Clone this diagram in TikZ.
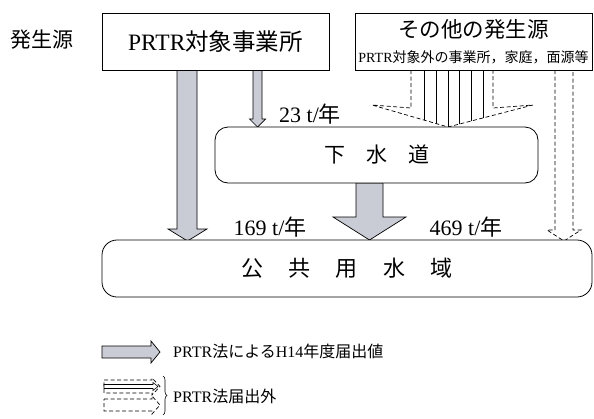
\documentclass[tikz,border=0pt]{standalone}
\usepackage{fontspec}
\setmainfont{Liberation Serif}
\newfontfamily\cjk{Noto Sans CJK JP}
\usetikzlibrary{decorations.pathreplacing}
\definecolor{arrgray}{RGB}{201,204,212}
\begin{document}
\begin{tikzpicture}[x=1pt,y=-1pt,
  box/.style={draw, line width=0.8pt, fill=white, inner sep=0pt},
  garrow/.style={draw, line width=0.7pt, fill=arrgray},
  darrow/.style={draw, line width=0.7pt, dash pattern=on 4pt off 2.5pt},
  sline/.style={draw, line width=0.6pt},
  valtxt/.style={font=\fontsize{22}{24}\selectfont, inner sep=0pt},
  legtxt/.style={font=\fontsize{16}{18}\selectfont, inner sep=0pt, anchor=west}]
\useasboundingbox (0,0) rectangle (594,418);
\fill[white] (0,0) rectangle (594,418);

% ---- arrows (drawn first, boxes overlay their roots) ----
% PRTR -> public waters
\path[garrow] (177,70) -- (177,229) -- (168,229) -- (187.5,241) -- (207,229) -- (197,229) -- (197,70) -- cycle;
% PRTR -> sewer
\path[garrow] (253,70) -- (253,119) -- (249.5,119) -- (257.5,127) -- (265.5,119) -- (262,119) -- (262,70) -- cycle;
% sewer -> public waters
\path[garrow] (356,183) -- (356,217) -- (333,217) -- (369.5,240) -- (406,217) -- (383,217) -- (383,183) -- cycle;
% other sources -> public waters (dashed)
\path[darrow] (555,70) -- (555,230) -- (547,230) -- (564,241) -- (581,230) -- (573,230) -- (573,70);
% other sources -> sewer (striped, dashed outline)
\begin{scope}
  \clip (411,70) -- (411,108) -- (372,105) -- (448,127) -- (533,105) -- (493,108) -- (493,70) -- cycle;
  \foreach \xx in {424,436,448,459.5,471,483}
    \path[sline] (\xx,60) -- (\xx,140);
\end{scope}
\path[darrow] (411,70) -- (411,108) -- (372,105) -- (448,127) -- (533,105) -- (493,108) -- (493,70);

% ---- boxes ----
\node[box, minimum width=227pt, minimum height=57pt] (prtr) at (215.5,41.5)
  {\fontsize{23.5}{25}\selectfont PRTR{\cjk 対象事業所}};
\node[box, minimum width=237pt, minimum height=57pt] (other) at (473.5,41.5) {};
\node[inner sep=0pt, font=\fontsize{21.5}{23}\selectfont\cjk] (othert) at (473.5,29) {その他の発生源};
\node[inner sep=0pt, font=\fontsize{14}{15}\selectfont] (others) at (473.5,57) {PRTR{\cjk 対象外の事業所，家庭，面源等}};
\node[box, rounded corners=13pt, minimum width=323pt, minimum height=56pt] (sewer) at (376.5,155)
  {\fontsize{21}{23}\selectfont\cjk 下\hspace{1em}水\hspace{1em}道};
\node[box, rounded corners=15pt, minimum width=490pt, minimum height=57pt] (public) at (347,268.5)
  {\fontsize{22}{24}\selectfont\cjk 公\hspace{1.15em}共\hspace{1.15em}用\hspace{1.15em}水\hspace{1.15em}域};

% ---- labels ----
\node[inner sep=0pt, font=\fontsize{21}{23}\selectfont\cjk] (src) at (42,40) {発生源};
\node[valtxt, anchor=west] (v23) at (279,114) {23 t/{\cjk 年}};
\node[valtxt] (v169) at (270,227) {169 t/{\cjk 年}};
\node[valtxt] (v469) at (466,227) {469 t/{\cjk 年}};

% ---- legend ----
\path[garrow] (102,346) -- (151,346) -- (151,341) -- (160,352) -- (151,363) -- (151,358) -- (102,358) -- cycle;
\node[legtxt] (leg1) at (173,351) {PRTR{\cjk 法による}H14{\cjk 年度届出値}};

\path[darrow] (104,380) -- (152,380) -- (152,378) -- (160,386.5) -- (152,395) -- (152,393) -- (104,393) -- cycle;
\path[sline, fill=white] (104,384.5) -- (153,384.5) -- (153,382.5) -- (158,386.5) -- (153,390.5) -- (153,388.5) -- (104,388.5) -- cycle;
\path[darrow] (104,399) -- (152,399) -- (152,396) -- (160,405) -- (152,414) -- (152,411) -- (104,411) -- cycle;
\coordinate (bt) at (163,376);
\coordinate (bb) at (163,415);
\draw[line width=0.6pt, decorate, decoration={brace, amplitude=4pt}] (bt) -- (bb);
\node[legtxt] (leg2) at (173,396) {PRTR{\cjk 法届出外}};
\end{tikzpicture}
\end{document}
